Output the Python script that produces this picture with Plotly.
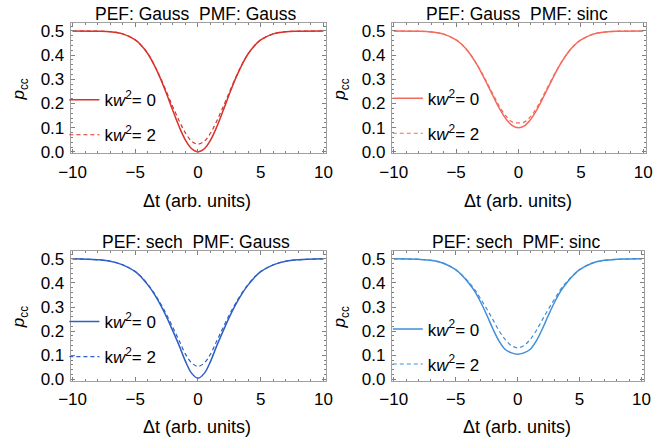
import plotly.graph_objects as go
from plotly.subplots import make_subplots

# ---------------- data ----------------
dt = [-10, -8, -7, -6, -5, -4.5, -4, -3.5, -3, -2.5, -2, -1.5, -1, -0.5, 0,
      0.5, 1, 1.5, 2, 2.5, 3, 3.5, 4, 4.5, 5, 6, 7, 8, 10]

gg_k0 = [0.500, 0.499, 0.497, 0.488, 0.463, 0.439, 0.406, 0.360, 0.304, 0.239, 0.170, 0.104, 0.049, 0.013, 0.000,
         0.013, 0.049, 0.104, 0.170, 0.239, 0.304, 0.360, 0.406, 0.439, 0.463, 0.488, 0.497, 0.499, 0.500]
gg_k2 = [0.500, 0.499, 0.497, 0.488, 0.463, 0.439, 0.406, 0.361, 0.307, 0.247, 0.186, 0.128, 0.078, 0.044, 0.032,
         0.044, 0.078, 0.128, 0.186, 0.247, 0.307, 0.361, 0.406, 0.439, 0.463, 0.488, 0.497, 0.499, 0.500]

gs_k0 = [0.500, 0.499, 0.496, 0.487, 0.463, 0.442, 0.413, 0.375, 0.330, 0.279, 0.227, 0.177, 0.136, 0.109, 0.100,
         0.109, 0.136, 0.177, 0.227, 0.279, 0.330, 0.375, 0.413, 0.442, 0.463, 0.487, 0.496, 0.499, 0.500]
gs_k2 = [0.500, 0.499, 0.496, 0.487, 0.463, 0.442, 0.413, 0.376, 0.333, 0.284, 0.234, 0.186, 0.148, 0.124, 0.120,
         0.124, 0.148, 0.186, 0.234, 0.284, 0.333, 0.376, 0.413, 0.442, 0.463, 0.487, 0.496, 0.499, 0.500]

sg_k0 = [0.500, 0.496, 0.490, 0.475, 0.447, 0.423, 0.392, 0.355, 0.310, 0.258, 0.200, 0.140, 0.075, 0.025, 0.005,
         0.025, 0.075, 0.140, 0.200, 0.258, 0.310, 0.355, 0.392, 0.423, 0.447, 0.475, 0.490, 0.496, 0.500]
sg_k2 = [0.500, 0.496, 0.490, 0.475, 0.447, 0.424, 0.394, 0.358, 0.316, 0.268, 0.215, 0.160, 0.105, 0.068, 0.054,
         0.068, 0.105, 0.160, 0.215, 0.268, 0.316, 0.358, 0.394, 0.424, 0.447, 0.475, 0.490, 0.496, 0.500]

ss_k0 = [0.500, 0.498, 0.494, 0.482, 0.455, 0.432, 0.403, 0.368, 0.322, 0.268, 0.210, 0.159, 0.124, 0.110, 0.104,
         0.110, 0.124, 0.159, 0.210, 0.268, 0.322, 0.368, 0.403, 0.432, 0.455, 0.482, 0.494, 0.498, 0.500]
ss_k2 = [0.500, 0.498, 0.494, 0.482, 0.455, 0.433, 0.407, 0.375, 0.335, 0.293, 0.248, 0.202, 0.165, 0.140, 0.131,
         0.140, 0.165, 0.202, 0.248, 0.293, 0.335, 0.375, 0.407, 0.433, 0.455, 0.482, 0.494, 0.498, 0.500]

panel_titles = ["PEF: Gauss\u00a0\u00a0PMF: Gauss", "PEF: Gauss\u00a0\u00a0PMF: sinc",
                "PEF: sech\u00a0\u00a0PMF: Gauss", "PEF: sech\u00a0\u00a0PMF: sinc"]
legend_names = ["k<i>w</i><sup>2</sup>= 0", "k<i>w</i><sup>2</sup>= 2"]
x_title = "Δt (arb. units)"
y_title = "<i>p</i><sub>cc</sub>"
y_ticks = [0.0, 0.1, 0.2, 0.3, 0.4, 0.5]
x_ticks = [-10, -5, 0, 5, 10]

# ---------------- styling ----------------
W, H = 661, 444
colors = ["#d8322b", "#f46a5e", "#2d5fc8", "#3f8fda"]
series = [(gg_k0, gg_k2), (gs_k0, gs_k2), (sg_k0, sg_k2), (ss_k0, ss_k2)]

# panel frames in pixels: (left, right, top, bottom)
frames = [(59.5, 322.7, 22.7, 155.5), (390.7, 652.5, 22.7, 155.5),
          (59.5, 322.7, 255.3, 387.7), (390.7, 650.7, 255.3, 387.7)]
legend_pos = [(53, 119), (386.5, 117.5), (53, 345.5), (386.5, 353)]
xtitle_off = [48.5, 48.5, 47.5, 47.5]

FONT = "Liberation Sans, Arial, sans-serif"
FS = 17

fig = make_subplots(rows=2, cols=2)

for i, ((k0, k2), col) in enumerate(zip(series, colors)):
    r, c = i // 2 + 1, i % 2 + 1
    lg = "legend" if i == 0 else f"legend{i + 1}"
    fig.add_trace(go.Scatter(x=dt, y=k0, mode="lines", name=legend_names[0],
                             line=dict(color=col, width=1.5, shape="spline", smoothing=1.0),
                             legend=lg, legendgroup=f"a{i}"), row=r, col=c)
    fig.add_trace(go.Scatter(x=dt, y=k2, mode="lines", name=legend_names[1],
                             line=dict(color=col, width=1.2, dash="4px,3px", shape="spline", smoothing=1.0),
                             legend=lg, legendgroup=f"b{i}"), row=r, col=c)

annotations = []
layout_extra = {}
for i, (l, rgt, t, b) in enumerate(frames):
    xa = "xaxis" if i == 0 else f"xaxis{i + 1}"
    ya = "yaxis" if i == 0 else f"yaxis{i + 1}"
    layout_extra[xa] = dict(
        domain=[l / W, rgt / W], range=[-10.15, 10.2],
        tickvals=x_ticks, ticks="inside", ticklen=4, tickwidth=1, tickcolor="#808080",
        mirror="ticks", showline=True, linecolor="#a0a0a0", linewidth=1,
        showgrid=False, zeroline=False, ticklabelstandoff=3,
        tickfont=dict(family=FONT, size=FS, color="black"),
        minor=dict(ticks="inside", ticklen=2, dtick=1, tickcolor="#808080", showgrid=False),
    )
    layout_extra[ya] = dict(
        domain=[1 - b / H, 1 - t / H], range=[-0.006, 0.532],
        tickvals=y_ticks, tickformat=".1f", ticks="inside", ticklen=4, tickwidth=1, tickcolor="#808080",
        mirror="ticks", showline=True, linecolor="#a0a0a0", linewidth=1,
        showgrid=False, zeroline=False, ticklabelstandoff=2,
        tickfont=dict(family=FONT, size=FS, color="black"),
        minor=dict(ticks="inside", ticklen=2, dtick=0.02, tickcolor="#808080", showgrid=False),
    )
    cx = (l + rgt) / 2
    annotations.append(dict(text=panel_titles[i], x=(cx - 2) / W, y=1 - (t - 9.5) / H,
                            xref="paper", yref="paper", showarrow=False,
                            xanchor="center", yanchor="middle",
                            font=dict(family=FONT, size=17.5, color="black")))
    annotations.append(dict(text=x_title, x=(cx - 1) / W, y=1 - (b + xtitle_off[i]) / H,
                            xref="paper", yref="paper", showarrow=False,
                            xanchor="center", yanchor="middle",
                            font=dict(family=FONT, size=18, color="black")))
    annotations.append(dict(text=y_title, x=(l - 52) / W, y=1 - ((t + b) / 2 + 1) / H,
                            xref="paper", yref="paper", showarrow=False, textangle=-90,
                            xanchor="center", yanchor="middle",
                            font=dict(family=FONT, size=FS, color="black")))

for i, (lx, ly) in enumerate(legend_pos):
    key = "legend" if i == 0 else f"legend{i + 1}"
    layout_extra[key] = dict(x=lx / W, y=1 - ly / H, xanchor="left", yanchor="middle",
                             bgcolor="rgba(0,0,0,0)", borderwidth=0,
                             traceorder="grouped", tracegroupgap=10,
                             font=dict(family=FONT, size=FS, color="black"),
                             itemclick=False)

fig.update_layout(
    width=W, height=H, margin=dict(l=0, r=0, t=0, b=0),
    paper_bgcolor="white", plot_bgcolor="white",
    showlegend=True, annotations=annotations, **layout_extra,
)

fig.write_html("out.html", config={"displayModeBar": False},
               post_script="document.body.style.margin='0px';")
